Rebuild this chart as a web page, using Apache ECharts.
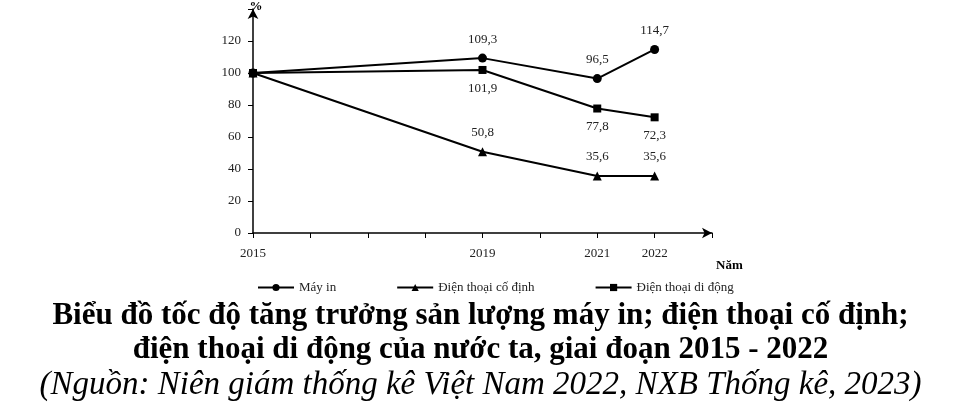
<!DOCTYPE html>
<html lang="vi">
<head>
  <meta charset="UTF-8" />
  <title>Biểu đồ tốc độ tăng trưởng</title>
  <script src="https://cdn.jsdelivr.net/npm/echarts@6/dist/echarts.min.js"></script>
</head>
<body style="margin:0">
  <div id="main" style="width: 961px; height: 415px;"></div>
  <script type="text/javascript">
    const years = [2015, 2019, 2021, 2022]
    const mayIn = [100, 109.3, 96.5, 114.7]
    const coDinh = [100, 50.8, 35.6, 35.6]
    const diDong = [100, 101.9, 77.8, 72.3]
    const yearLabels = [2015, 2019, 2021, 2022]

    const font = 'Liberation Serif'
    const fmt = v => String(v).replace('.', ',')

    function mk(name, vals, symbol, pos, size) {
      return {
        name, type: 'line', symbol, symbolSize: size,
        data: years.map((y, i) => [y, vals[i]]),
        lineStyle: { color: '#000', width: 2 },
        itemStyle: { color: '#000' },
        label: {
          show: true, position: pos, distance: 8, fontFamily: font, fontSize: 13, color: '#222',
          formatter: p => p.dataIndex === 0 ? '' : fmt(p.value[1])
        }
      }
    }

    var myChart = echarts.init(document.getElementById('main'))
    myChart.setOption({
      animation: false,
      grid: { left: 253, right: 249, top: 9, bottom: 182 },
      xAxis: {
        type: 'value', min: 2015, max: 2023, interval: 1,
        axisLine: { lineStyle: { color: '#000', width: 1.5 }, symbol: ['none', 'arrow'], symbolSize: [8, 10] },
        axisTick: { show: true, length: 5, lineStyle: { color: '#000' } },
        splitLine: { show: false },
        axisLabel: {
          fontFamily: font, fontSize: 13, color: '#222', margin: 14,
          formatter: v => yearLabels.includes(v) ? String(v) : ''
        },
        name: 'Năm', nameLocation: 'end', nameGap: 4,
        nameTextStyle: { fontFamily: font, fontSize: 13, fontWeight: 'bold', color: '#000', verticalAlign: 'top', padding: [26, 0, 0, 0] }
      },
      yAxis: {
        type: 'value', min: 0, max: 140, interval: 20,
        axisLine: { show: true, lineStyle: { color: '#000', width: 1.5 }, symbol: ['none', 'arrow'], symbolSize: [8, 10] },
        axisTick: { show: true, length: 5, lineStyle: { color: '#000' } },
        splitLine: { show: false },
        axisLabel: { fontFamily: font, fontSize: 13, color: '#222', margin: 12, formatter: v => v === 140 ? '' : v },
        name: '%', nameGap: -4,
        nameTextStyle: { fontFamily: font, fontSize: 13, fontWeight: 'bold', color: '#000', padding: [0, 0, 0, 6] }
      },
      legend: {
        left: 252, top: 276, itemWidth: 36, itemHeight: 9, itemGap: 60,
        textStyle: { fontFamily: font, fontSize: 13, color: '#222' },
        data: ['Máy in', 'Điện thoại cố định', 'Điện thoại di động']
      },
      title: [
        { text: 'Biểu đồ tốc độ tăng trưởng sản lượng máy in; điện thoại cố định;', left: 'center', top: 295,
          textStyle: { fontFamily: font, fontSize: 31, fontWeight: 'bold', color: '#000' } },
        { text: 'điện thoại di động của nước ta, giai đoạn 2015 - 2022', left: 'center', top: 329,
          textStyle: { fontFamily: font, fontSize: 31, fontWeight: 'bold', color: '#000' } },
        { text: '(Nguồn: Niên giám thống kê Việt Nam 2022, NXB Thống kê, 2023)', left: 'center', top: 364,
          textStyle: { fontFamily: font, fontSize: 33, fontStyle: 'italic', fontWeight: 'normal', color: '#000' } }
      ],
      series: [
        mk('Máy in', mayIn, 'circle', 'top', 9),
        mk('Điện thoại cố định', coDinh, 'triangle', 'top', 9),
        mk('Điện thoại di động', diDong, 'rect', 'bottom', 8)
      ]
    })
  </script>
</body>
</html>
